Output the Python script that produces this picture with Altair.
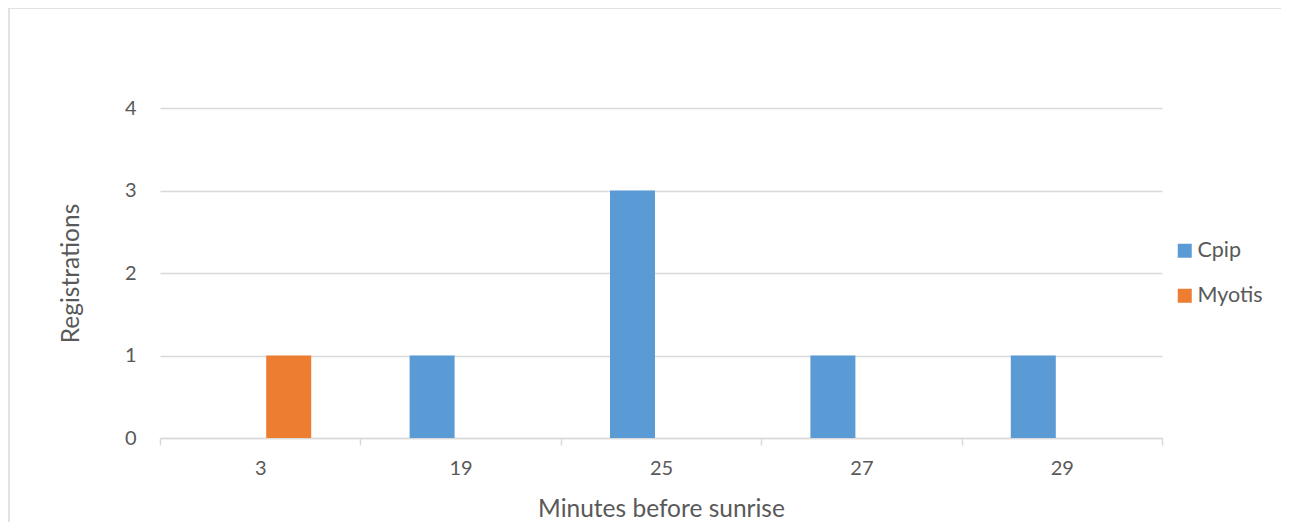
import altair as alt
import pandas as pd

minutes = ["3", "19", "25", "27", "29"]
cpip = [0, 1, 3, 1, 1]
myotis = [1, 0, 0, 0, 0]
series = ["Cpip", "Myotis"]
colors = ["#5B9BD5", "#ED7D31"]

rows = []
for m, c, my in zip(minutes, cpip, myotis):
    rows.append({"Minutes": m, "Species": "Cpip", "Registrations": c})
    rows.append({"Minutes": m, "Species": "Myotis", "Registrations": my})
df = pd.DataFrame(rows)

W, H = 1002, 330
FONT = "Lato"
TXT = "#595959"
GRID = "#D9D9D9"

bars = alt.Chart(df).mark_bar().encode(
    x=alt.X("Minutes:N", sort=minutes, title="Minutes before sunrise",
            scale=alt.Scale(paddingInner=0, paddingOuter=0),
            axis=alt.Axis(labelAngle=0, tickBand="extent", tickSize=7, tickColor=GRID,
                          domainColor=GRID, domainWidth=1.5, tickWidth=1.5, labelPadding=13,
                          titlePadding=19, grid=False)),
    xOffset=alt.XOffset("Species:N", sort=series,
                        scale=alt.Scale(paddingInner=0.2105, paddingOuter=0.863)),
    y=alt.Y("Registrations:Q", title="Registrations",
            scale=alt.Scale(domain=[0, 4], nice=False),
            axis=alt.Axis(values=[0, 1, 2, 3, 4], format="d", domain=False, ticks=False,
                          labelPadding=24, titlePadding=41, gridColor=GRID, gridWidth=1.5)),
    color=alt.Color("Species:N", sort=series,
                    scale=alt.Scale(domain=series, range=colors),
                    legend=alt.Legend(title=None, orient="none", legendX=1014, legendY=132,
                                      symbolType="square", symbolSize=196, symbolStrokeWidth=0,
                                      labelFontSize=21.5, labelColor=TXT, labelFont=FONT,
                                      rowPadding=22, labelOffset=2)),
)

edge = pd.DataFrame({"a": [0]})
top_line = alt.Chart(edge).mark_rule(stroke=GRID, strokeWidth=1.5).encode(
    x=alt.value(-151), x2=alt.value(1130), y=alt.value(-100)
)
left_line = alt.Chart(edge).mark_rule(stroke=GRID, strokeWidth=1.5).encode(
    x=alt.value(-151), y=alt.value(-100), y2=alt.value(420)
)

chart = alt.layer(top_line, left_line, bars).properties(
    width=W, height=H,
    background="white",
    autosize=alt.AutoSizeParams(type="none"),
    padding={"left": 152, "top": 100, "right": 119, "bottom": 84},
).configure_view(stroke=None).configure_axis(
    labelFont=FONT, titleFont=FONT, labelFontSize=20, titleFontSize=24.5,
    labelColor=TXT, titleColor=TXT, titleFontWeight="normal",
)

chart.save("out.html", embed_options={"renderer": "svg", "actions": False})
